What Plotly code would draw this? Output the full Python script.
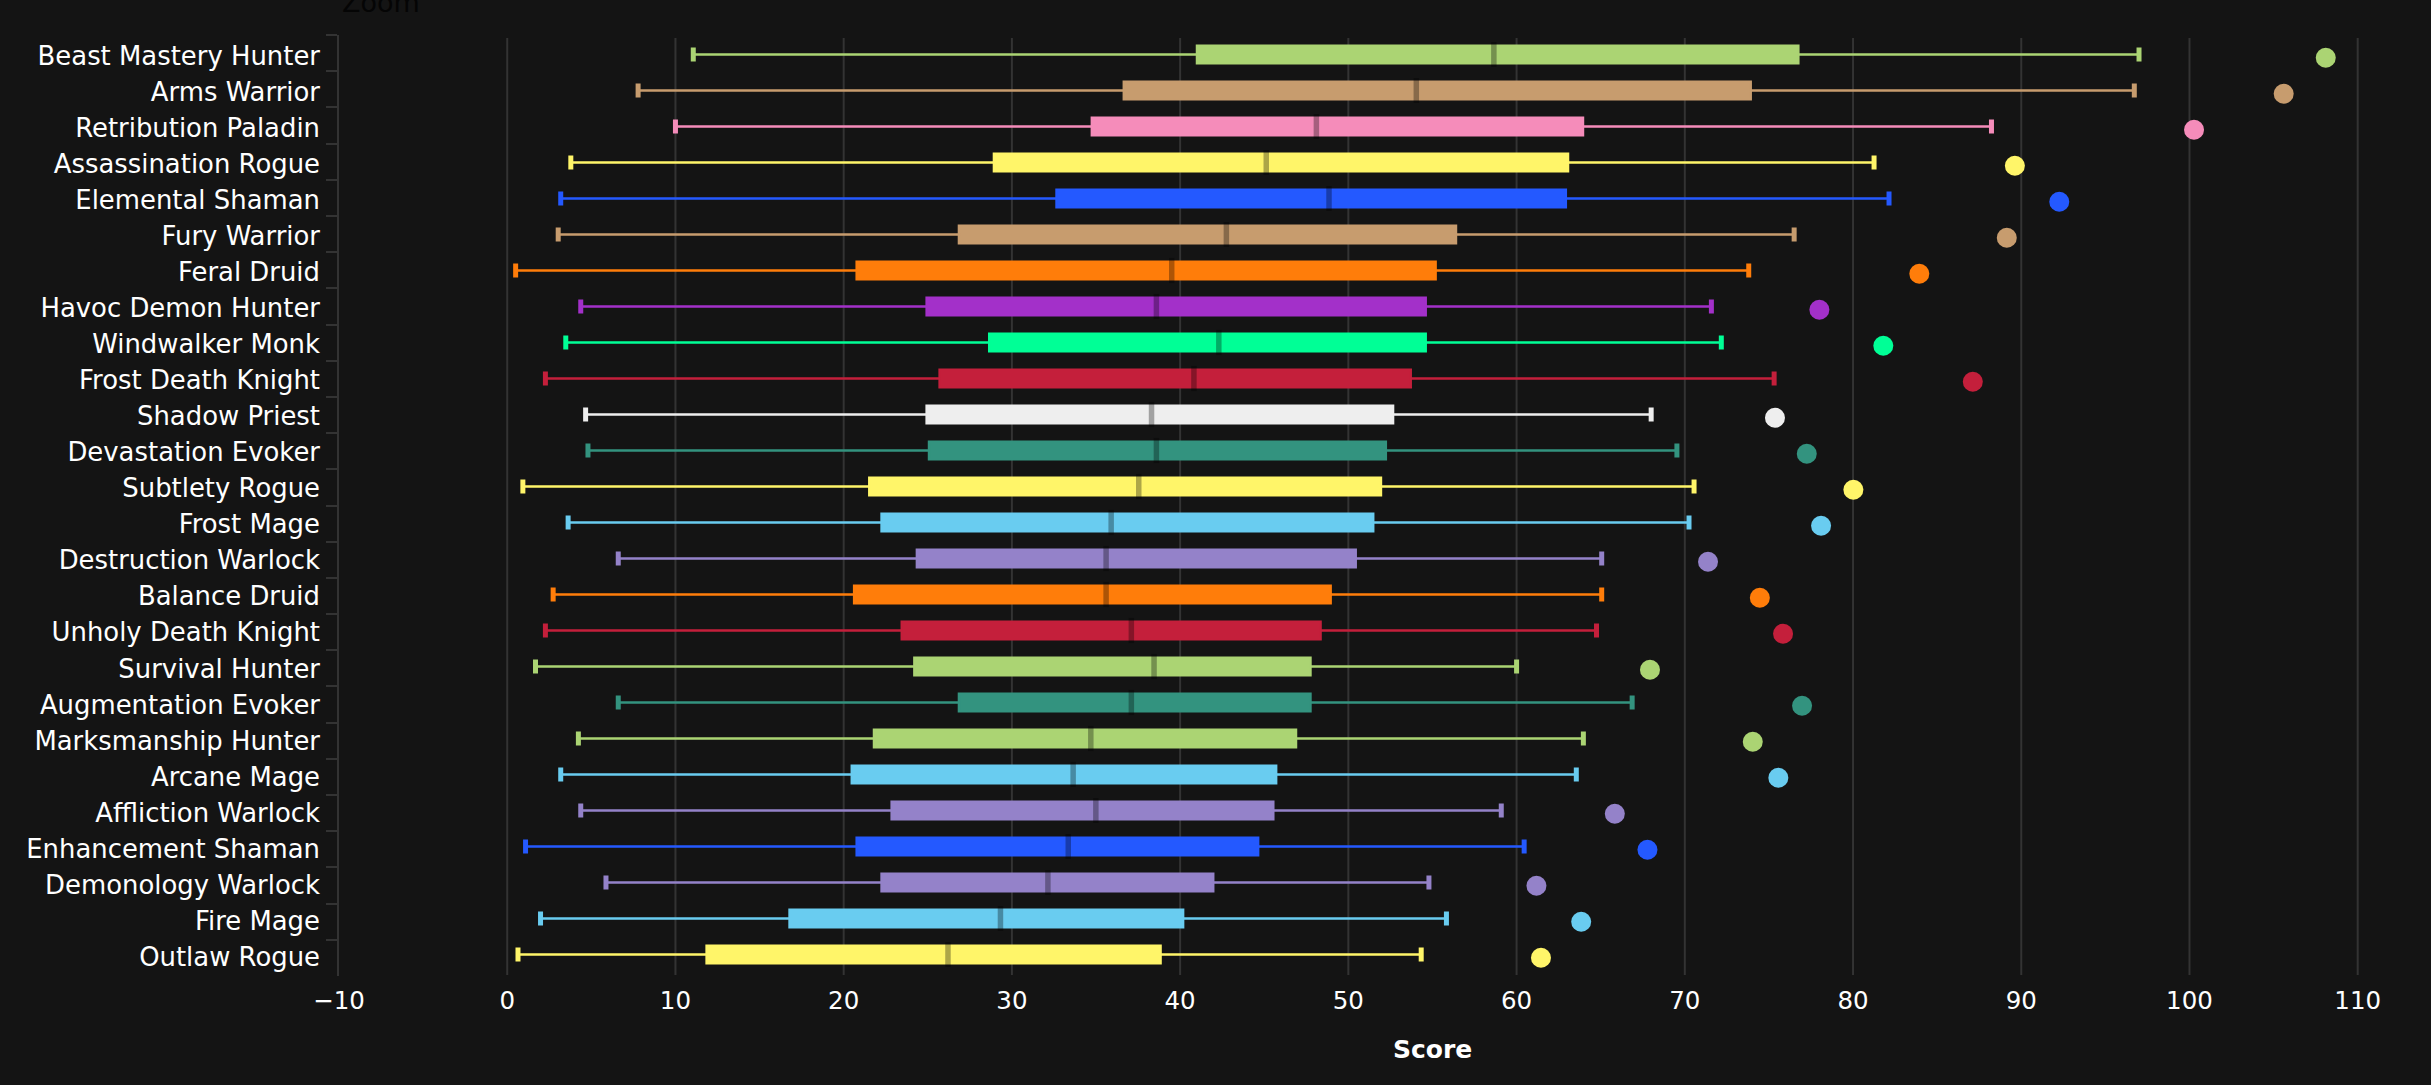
import plotly.graph_objects as go

specs = ["Beast Mastery Hunter", "Arms Warrior", "Retribution Paladin", "Assassination Rogue",
         "Elemental Shaman", "Fury Warrior", "Feral Druid", "Havoc Demon Hunter", "Windwalker Monk",
         "Frost Death Knight", "Shadow Priest", "Devastation Evoker", "Subtlety Rogue", "Frost Mage",
         "Destruction Warlock", "Balance Druid", "Unholy Death Knight", "Survival Hunter",
         "Augmentation Evoker", "Marksmanship Hunter", "Arcane Mage", "Affliction Warlock",
         "Enhancement Shaman", "Demonology Warlock", "Fire Mage", "Outlaw Rogue"]
low = [11.06, 7.78, 10.0, 3.78, 3.18, 3.03, 0.5, 4.37, 3.48, 2.27, 4.66, 4.8, 0.93,
       3.62, 6.6, 2.73, 2.27, 1.68, 6.6, 4.23, 3.18, 4.37, 1.09, 5.87, 1.98, 0.64]
q1 = [41.0, 36.65, 34.75, 28.93, 32.65, 26.85, 20.77, 24.93, 28.65, 25.7, 24.93, 25.07, 21.52,
      22.25, 24.35, 20.62, 23.45, 24.2, 26.85, 21.8, 20.48, 22.85, 20.77, 22.25, 16.78, 11.85]
median = [58.65, 54.04, 48.1, 45.12, 48.85, 42.75, 39.5, 38.59, 42.3, 40.82, 38.3, 38.59, 37.54,
          35.9, 35.6, 35.6, 37.1, 38.45, 37.1, 34.69, 33.64, 34.99, 33.35, 32.14, 29.32, 26.2]
q3 = [76.75, 73.92, 63.95, 63.06, 62.93, 56.4, 55.19, 54.6, 54.6, 53.71, 52.66, 52.23, 51.94,
      51.48, 50.44, 48.95, 48.35, 47.75, 47.75, 46.89, 45.71, 45.54, 44.64, 41.97, 40.18, 38.84]
high = [97.0, 96.72, 88.23, 81.25, 82.14, 76.5, 73.8, 71.58, 72.17, 75.31, 68.0, 69.53, 70.55,
        70.25, 65.06, 65.06, 64.75, 60.0, 66.87, 63.97, 63.55, 59.09, 60.45, 54.79, 55.83, 54.33]
top = [108.1, 105.6, 100.27, 89.62, 92.26, 89.14, 83.94, 78.0, 81.8, 87.12, 75.36, 77.25, 80.02,
       78.1, 71.38, 74.46, 75.84, 67.93, 76.97, 74.04, 75.56, 65.84, 67.78, 61.18, 63.84, 61.45]
colors = ["#ABD473", "#C79C6E", "#F58CBA", "#FFF569", "#2459FF", "#C79C6E", "#FF7D0A", "#A330C9",
          "#00FF96", "#C41F3B", "#EEEEEE", "#33937F", "#FFF569", "#69CCF0", "#9482C9", "#FF7D0A",
          "#C41F3B", "#ABD473", "#33937F", "#ABD473", "#69CCF0", "#9482C9", "#2459FF", "#9482C9",
          "#69CCF0", "#FFF569"]
x_ticks = list(range(-10, 111, 10))
grid_values = list(range(0, 111, 10))

W, H = 2431, 1085
BG = "#141414"
FONT = "DejaVu Sans"
GRID = "#333333"
L, T_, B_ = 339.0, 35.0, 976.0
PX_PER_UNIT = 16.825
X_MAX = 114.0
R = W - (L + (X_MAX + 10) * PX_PER_UNIT)


def dom(top_px, bottom_px):
    return [(B_ - bottom_px) / (B_ - T_), (B_ - top_px) / (B_ - T_)]


fig = go.Figure()

# invisible carriers for the axis with the ticks and the axis with the labels
for axis in ("y", "y4"):
    fig.add_trace(go.Scatter(x=top, y=specs, mode="markers", marker=dict(opacity=0),
                             hoverinfo="skip", showlegend=False, xaxis="x", yaxis=axis))

for s, a, b, m, c, d, col in zip(specs, low, q1, median, q3, high, colors):
    fig.add_trace(go.Box(y=[s], lowerfence=[a], q1=[b], median=[m], q3=[c], upperfence=[d],
                         orientation="h", boxpoints=False, width=0.49, whiskerwidth=0,
                         fillcolor=col, line=dict(color=col, width=2.4), showlegend=False,
                         xaxis="x", yaxis="y2"))

# whisker caps
fig.add_trace(go.Scatter(x=low + high, y=specs + specs, mode="markers", showlegend=False,
                         marker=dict(symbol="line-ns", size=10, color=colors + colors,
                                     line=dict(color=colors + colors, width=5)),
                         xaxis="x", yaxis="y2"))
# medians
fig.add_trace(go.Scatter(x=median, y=specs, mode="markers", showlegend=False,
                         marker=dict(symbol="line-ns", size=18,
                                     line=dict(color="rgba(0,0,0,0.32)", width=5.5)),
                         xaxis="x", yaxis="y2"))
# top score dots
fig.add_trace(go.Scatter(x=top, y=specs, mode="markers", showlegend=False,
                         marker=dict(symbol="circle", size=20, color=colors, line=dict(width=0)),
                         xaxis="x", yaxis="y3"))

shapes = [dict(type="line", layer="below", xref="x", yref="paper", x0=v, x1=v,
               y0=(B_ - 975) / (B_ - T_), y1=(B_ - 38) / (B_ - T_),
               line=dict(color=GRID, width=2)) for v in grid_values]

cat_common = dict(type="category", categoryorder="array", categoryarray=specs,
                  range=[len(specs) - 0.5, -0.5])

fig.update_layout(
    width=W, height=H, autosize=False,
    paper_bgcolor=BG, plot_bgcolor="rgba(0,0,0,0)",
    margin=dict(l=L, r=R, t=T_, b=H - B_, pad=0),
    showlegend=False,
    shapes=shapes,
    font=dict(family=FONT, color="#FFFFFF"),
    xaxis=dict(range=[-10, X_MAX], tickmode="array", tickvals=x_ticks, showgrid=False,
               zeroline=False, showline=False, ticks="outside", ticklen=3,
               tickcolor="rgba(0,0,0,0)", tickfont=dict(family=FONT, size=24.5, color="#FFFFFF"),
               anchor="y"),
    yaxis=dict(domain=[0, 1], showgrid=False, zeroline=False, showline=True, linecolor=GRID,
               linewidth=2, ticks="outside", ticklen=11, tickwidth=2, tickcolor=GRID,
               tickson="boundaries", showticklabels=False, anchor="x", **cat_common),
    yaxis2=dict(domain=dom(36.5, 972.5), visible=False, anchor="x", **cat_common),
    yaxis3=dict(domain=dom(39.7, 975.7), visible=False, anchor="x", **cat_common),
    yaxis4=dict(domain=dom(37.4, 975.0), showgrid=False, zeroline=False, showline=False,
                ticks="", ticklabelstandoff=18, anchor="x",
                tickfont=dict(family=FONT, size=25.9, color="#FFFFFF"), **cat_common),
    annotations=[
        dict(text="Score", xref="paper", yref="paper", x=(1433 - L) / (W - L - R), y=0,
             xanchor="center", yanchor="middle", yshift=-(1049 - B_), showarrow=False,
             font=dict(family=FONT, size=25, color="#FFFFFF", weight=600)),
        dict(text="Zoom", xref="paper", yref="paper", x=0, y=1, xanchor="left", yanchor="middle",
             xshift=1, yshift=T_ - 2, showarrow=False,
             font=dict(family=FONT, size=27, color="#050505")),
    ],
)

fig.write_html("out.html", config={"displayModeBar": False}, post_script=(
    "document.documentElement.style.background='#141414';"
    "document.body.style.margin='0';document.body.style.background='#141414';"
    "document.body.style.overflow='hidden';"))
